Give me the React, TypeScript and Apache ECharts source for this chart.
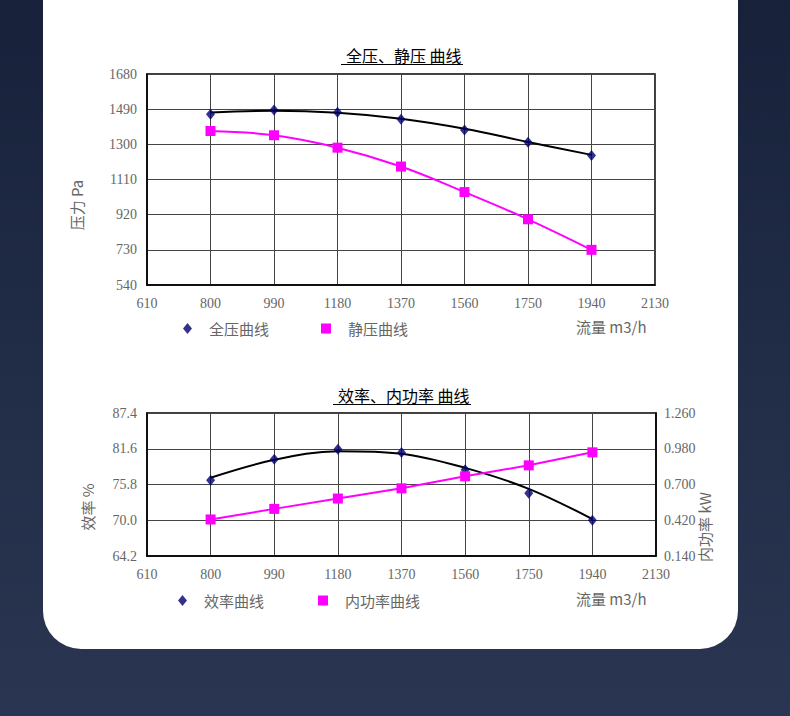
import React, { useEffect, useRef } from "react";
import * as echarts from "echarts";

// flow rate m3/h (x positions of the measured points)
const flow = [800, 990, 1180, 1370, 1560, 1750, 1940];
const flowAxis = [610, 2130, 190];

// top chart: pressure, Pa
const pressureAxis = [540, 1680, 190];
const totalPressure = [1462, 1486, 1474, 1436, 1377, 1311, 1239];
const totalPressureTrend = [1472, 1481, 1470, 1438, 1384, 1313, 1243];
const staticPressure = [1372, 1349, 1282, 1180, 1042, 895, 730];

// bottom chart: efficiency %, inner power kW
const efficiencyAxis = [64.2, 87.4, 5.8];
const powerAxis = [0.14, 1.26, 0.28];
const efficiency = [76.5, 79.9, 81.5, 81.0, 78.2, 74.4, 70.0];
const efficiencyTrend = [76.9, 79.8, 81.2, 80.8, 78.5, 75.1, 70.2];
const innerPower = [0.426, 0.509, 0.59, 0.67, 0.764, 0.85, 0.952];

const pair = (ys) => flow.map((x, i) => [x, ys[i]]);

const SERIF = "'Liberation Serif', 'DejaVu Serif', serif";
const CJK = "'Noto Sans CJK SC', sans-serif";
const LABEL = "#666";
const NAVY = "#00006e";
const MAGENTA = "#ff00ff";

const xAxisBase = (gridIndex) => ({
	type: "value",
	gridIndex,
	min: flowAxis[0],
	max: flowAxis[1],
	interval: flowAxis[2],
	axisLine: { show: true, lineStyle: { color: "#000", width: 1.5 } },
	axisTick: { show: false },
	axisLabel: {
		color: LABEL,
		fontFamily: SERIF,
		fontSize: 14,
		margin: 11,
		formatter: (v) => String(Math.round(v)),
	},
	splitLine: { show: true, lineStyle: { color: "#444", width: 1 } },
});

const yAxisBase = (gridIndex, range, digits) => ({
	type: "value",
	gridIndex,
	min: range[0],
	max: range[1],
	interval: range[2],
	axisLine: { show: true, lineStyle: { color: "#000", width: 1.5 } },
	axisTick: { show: false },
	axisLabel: {
		color: LABEL,
		fontFamily: SERIF,
		fontSize: 14,
		margin: 10,
		formatter: (v) => Number(v).toFixed(digits),
	},
	splitLine: { show: true, lineStyle: { color: "#444", width: 1 } },
});

const legendBase = (name, icon, left, top, w, h) => ({
	data: [{ name, icon }],
	left,
	top,
	itemWidth: w,
	itemHeight: h,
	textStyle: { color: LABEL, fontFamily: CJK, fontSize: 15, padding: [0, 0, 0, 12] },
	selectedMode: false,
});

const App = () => {
	const chartRef = useRef(null);

	useEffect(() => {
		if (!chartRef.current) return;
		const chart = echarts.init(chartRef.current, null, { renderer: "svg" });

		const option = {
			animation: false,
			title: [
				{
					text: "全压、静压 曲线",
					left: 341,
					top: 42,
					textStyle: { color: "#000", fontFamily: CJK, fontSize: 16, fontWeight: "normal" },
				},
				{
					text: "效率、内功率 曲线",
					left: 333,
					top: 382,
					textStyle: { color: "#000", fontFamily: CJK, fontSize: 16, fontWeight: "normal" },
				},
			],
			grid: [
				{ left: 147, top: 74, width: 508, height: 211, show: true, borderColor: "#000", borderWidth: 1.5, backgroundColor: "transparent" },
				{ left: 147, top: 413, width: 509, height: 143, show: true, borderColor: "#000", borderWidth: 1.5, backgroundColor: "transparent" },
			],
			xAxis: [xAxisBase(0), xAxisBase(1)],
			yAxis: [
				yAxisBase(0, pressureAxis, 0),
				yAxisBase(1, efficiencyAxis, 1),
				{
					...yAxisBase(1, powerAxis, 3),
					position: "right",
					axisLabel: {
						color: LABEL,
						fontFamily: SERIF,
						fontSize: 14,
						margin: 8,
						formatter: (v) => Number(v).toFixed(3),
					},
					splitLine: { show: false },
				},
			],
			legend: [
				legendBase("全压曲线", "diamond", 178, 316, 9, 11),
				legendBase("静压曲线", "rect", 316, 316, 10, 10),
				legendBase("效率曲线", "diamond", 173, 588, 9, 11),
				legendBase("内功率曲线", "rect", 313, 588, 10, 10),
			],
			graphic: [
				{ type: "line", shape: { x1: 341, y1: 64.5, x2: 463, y2: 64.5 }, style: { stroke: "#000", lineWidth: 1 } },
				{ type: "line", shape: { x1: 333, y1: 404.5, x2: 471, y2: 404.5 }, style: { stroke: "#000", lineWidth: 1 } },
				{
					type: "text",
					x: 76,
					y: 205,
					rotation: Math.PI / 2,
					style: { text: "压力 Pa", fill: LABEL, font: `15px ${CJK}`, align: "center", verticalAlign: "middle" },
				},
				{
					type: "text",
					x: 87,
					y: 507,
					rotation: Math.PI / 2,
					style: { text: "效率 %", fill: LABEL, font: `15px ${CJK}`, align: "center", verticalAlign: "middle" },
				},
				{
					type: "text",
					x: 704,
					y: 527,
					rotation: Math.PI / 2,
					style: { text: "内功率 kW", fill: LABEL, font: `15px ${CJK}`, align: "center", verticalAlign: "middle" },
				},
				{
					type: "text",
					x: 576,
					y: 326,
					style: { text: "流量 m3/h", fill: LABEL, font: `15px ${CJK}`, align: "left", verticalAlign: "middle" },
				},
				{
					type: "text",
					x: 576,
					y: 598,
					style: { text: "流量 m3/h", fill: LABEL, font: `15px ${CJK}`, align: "left", verticalAlign: "middle" },
				},
			],
			series: [
				{
					name: "全压趋势",
					type: "line",
					xAxisIndex: 0,
					yAxisIndex: 0,
					smooth: 0.4,
					symbol: "none",
					data: pair(totalPressureTrend),
					lineStyle: { color: "#000", width: 2 },
					z: 2,
				},
				{
					name: "全压曲线",
					type: "scatter",
					xAxisIndex: 0,
					yAxisIndex: 0,
					symbol: "diamond",
					symbolSize: [9, 11],
					data: pair(totalPressure),
					itemStyle: { color: NAVY },
					z: 3,
				},
				{
					name: "静压曲线",
					type: "line",
					xAxisIndex: 0,
					yAxisIndex: 0,
					smooth: 0.4,
					symbol: "rect",
					symbolSize: 10,
					showAllSymbol: true,
					data: pair(staticPressure),
					lineStyle: { color: MAGENTA, width: 2 },
					itemStyle: { color: MAGENTA },
					z: 3,
				},
				{
					name: "效率趋势",
					type: "line",
					xAxisIndex: 1,
					yAxisIndex: 1,
					smooth: 0.35,
					symbol: "none",
					data: pair(efficiencyTrend),
					lineStyle: { color: "#000", width: 2 },
					z: 2,
				},
				{
					name: "效率曲线",
					type: "scatter",
					xAxisIndex: 1,
					yAxisIndex: 1,
					symbol: "diamond",
					symbolSize: [9, 11],
					data: pair(efficiency),
					itemStyle: { color: NAVY },
					z: 3,
				},
				{
					name: "内功率曲线",
					type: "line",
					xAxisIndex: 1,
					yAxisIndex: 2,
					smooth: false,
					symbol: "rect",
					symbolSize: 10,
					showAllSymbol: true,
					data: pair(innerPower),
					lineStyle: { color: MAGENTA, width: 2 },
					itemStyle: { color: MAGENTA },
					z: 3,
				},
			],
		};

		chart.setOption(option);

		return () => {
			chart.dispose();
		};
	}, []);

	return (
		<div
			style={{
				position: "fixed",
				left: 0,
				top: 0,
				width: 790,
				height: 716,
				overflow: "hidden",
				background: "linear-gradient(180deg, #17213a 0%, #222d48 55%, #2a3551 100%)",
			}}
		>
			<div
				style={{
					position: "absolute",
					left: 43,
					top: -60,
					width: 695,
					height: 709,
					background: "#fff",
					borderRadius: 38,
				}}
			/>
			<div ref={chartRef} style={{ position: "absolute", left: 0, top: 0, width: 790, height: 716 }} />
		</div>
	);
};

export default App;
